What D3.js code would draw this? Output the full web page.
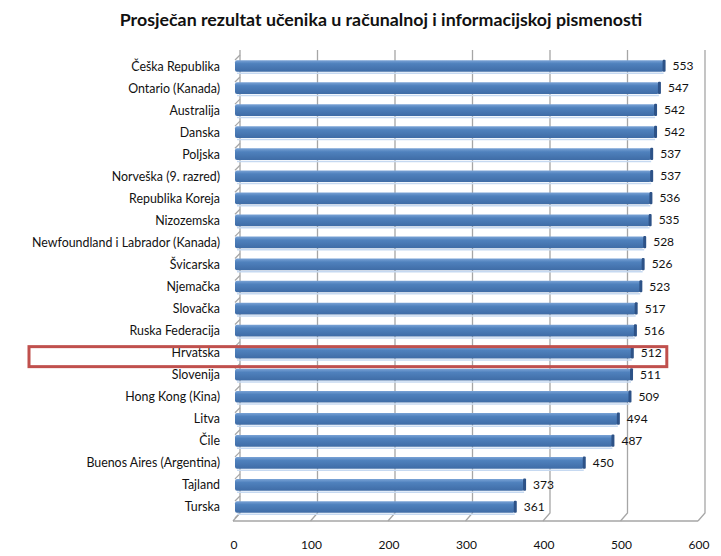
<!DOCTYPE html>
<html>
<head>
<meta charset="utf-8">
<script src="https://cdn.jsdelivr.net/npm/d3@7"></script>
<style>
  body { margin: 0; background: #fff; }
  text { font-family: Lato, "Open Sans", sans-serif; fill: #111; }
</style>
</head>
<body>
<div id="chart"></div>
<script>
// data
var countries = ["Češka Republika", "Ontario (Kanada)", "Australija", "Danska", "Poljska",
  "Norveška (9. razred)", "Republika Koreja", "Nizozemska", "Newfoundland i Labrador (Kanada)",
  "Švicarska", "Njemačka", "Slovačka", "Ruska Federacija", "Hrvatska", "Slovenija",
  "Hong Kong (Kina)", "Litva", "Čile", "Buenos Aires (Argentina)", "Tajland", "Turska"];
var scores = [553, 547, 542, 542, 537, 537, 536, 535, 528, 526, 523, 517, 516, 512, 511, 509, 494, 487, 450, 373, 361];
var xTicks = [0, 100, 200, 300, 400, 500, 600];
var highlight = "Hrvatska";

var svgWidth = 721;
var svgHeight = 556;

// 3d depth offset of the back wall
var dx = 7, dy = -8;

var svg = d3.select("#chart")
  .append("svg")
  .attr("width", svgWidth)
  .attr("height", svgHeight);

var defs = svg.append("defs");
var grad = defs.append("linearGradient")
  .attr("id", "barGrad")
  .attr("x1", 0).attr("y1", 0).attr("x2", 0).attr("y2", 1);
grad.append("stop").attr("offset", "0%").attr("stop-color", "#7aa3d6");
grad.append("stop").attr("offset", "30%").attr("stop-color", "#4f81bd");
grad.append("stop").attr("offset", "100%").attr("stop-color", "#3f6ca6");

// front plane scales
var xScale = d3.scaleLinear()
  .domain([0, 600])
  .range([233, 698]);

var yScale = d3.scaleBand()
  .domain(countries)
  .range([55, 518])
  .paddingInner(0.47)
  .paddingOuter(0.235);

var floorY = 521;
var topY = 50;
var gridColor = "#a6a6a6";

// title
svg.append("text")
  .attr("x", 381)
  .attr("y", 26)
  .attr("text-anchor", "middle")
  .style("font-size", "17.8px")
  .style("font-weight", "bold")
  .text("Prosječan rezultat učenika u računalnoj i informacijskoj pismenosti");

// back wall gridlines + floor ticks
var grid = svg.append("g").attr("stroke", gridColor).attr("stroke-width", 1.3).attr("fill", "none");
xTicks.forEach(function(t) {
  var fx = xScale(t);
  grid.append("path")
    .attr("d", "M" + fx + "," + floorY + "L" + (fx + dx) + "," + (floorY + dy) +
      "L" + (fx + dx) + "," + topY);
});
// floor front edge
grid.append("line")
  .attr("x1", xScale(0)).attr("x2", xScale(600))
  .attr("y1", floorY).attr("y2", floorY);

// left axis ticks at category boundaries
var step = yScale.step();
var y0 = yScale.range()[0];
for (var i = 0; i <= countries.length; i++) {
  var by = y0 + i * step;
  if (by > floorY + dy) by = floorY + dy;
  grid.append("path")
    .attr("d", "M" + (xScale(0) + 2) + "," + (by + 5) + "L" + (xScale(0) + dx) + "," + by);
}

// bars
var bh = yScale.bandwidth();
var bars = svg.append("g").selectAll("g.bar")
  .data(countries)
  .enter()
  .append("g")
  .attr("class", "bar");

bars.append("rect")
  .attr("x", d => xScale(0) + 2)
  .attr("y", d => yScale(d))
  .attr("width", (d, i) => xScale(scores[i]) - xScale(0))
  .attr("height", bh)
  .attr("rx", 2)
  .attr("fill", "url(#barGrad)");

// dark end cap
bars.append("rect")
  .attr("x", (d, i) => xScale(scores[i]) + 1)
  .attr("y", d => yScale(d) - 0.5)
  .attr("width", 3)
  .attr("height", bh + 0.5)
  .attr("rx", 1)
  .attr("fill", "#2d5287");

// faint shadow line under each bar
bars.append("line")
  .attr("x1", xScale(0) + 4)
  .attr("x2", (d, i) => xScale(scores[i]) + 2)
  .attr("y1", d => yScale(d) + bh + 1.5)
  .attr("y2", d => yScale(d) + bh + 1.5)
  .attr("stroke", "#c6d9f1")
  .attr("stroke-width", 1.5);

// value labels
bars.append("text")
  .attr("x", (d, i) => xScale(scores[i]) + 11)
  .attr("y", d => yScale(d) + bh / 2 + 4)
  .style("font-size", "12px")
  .text((d, i) => scores[i]);

// category labels
svg.append("g").selectAll("text")
  .data(countries)
  .enter()
  .append("text")
  .attr("x", 220)
  .attr("y", d => yScale(d) + bh / 2 + 4.5)
  .attr("text-anchor", "end")
  .style("font-size", "12.4px")
  .text(d => d);

// x tick labels
svg.append("g").selectAll("text")
  .data(xTicks)
  .enter()
  .append("text")
  .attr("x", d => xScale(d) + 1)
  .attr("y", 549)
  .attr("text-anchor", "middle")
  .style("font-size", "12px")
  .text(d => d);

// red highlight box around Hrvatska
var hy = yScale(highlight) + bh / 2;
var hi = countries.indexOf(highlight);
svg.append("rect")
  .attr("x", 29)
  .attr("y", hy - 6)
  .attr("width", xScale(scores[hi]) + 37 - 29)
  .attr("height", 20)
  .attr("fill", "none")
  .attr("stroke", "#c0504d")
  .attr("stroke-width", 3);
</script>
</body>
</html>
